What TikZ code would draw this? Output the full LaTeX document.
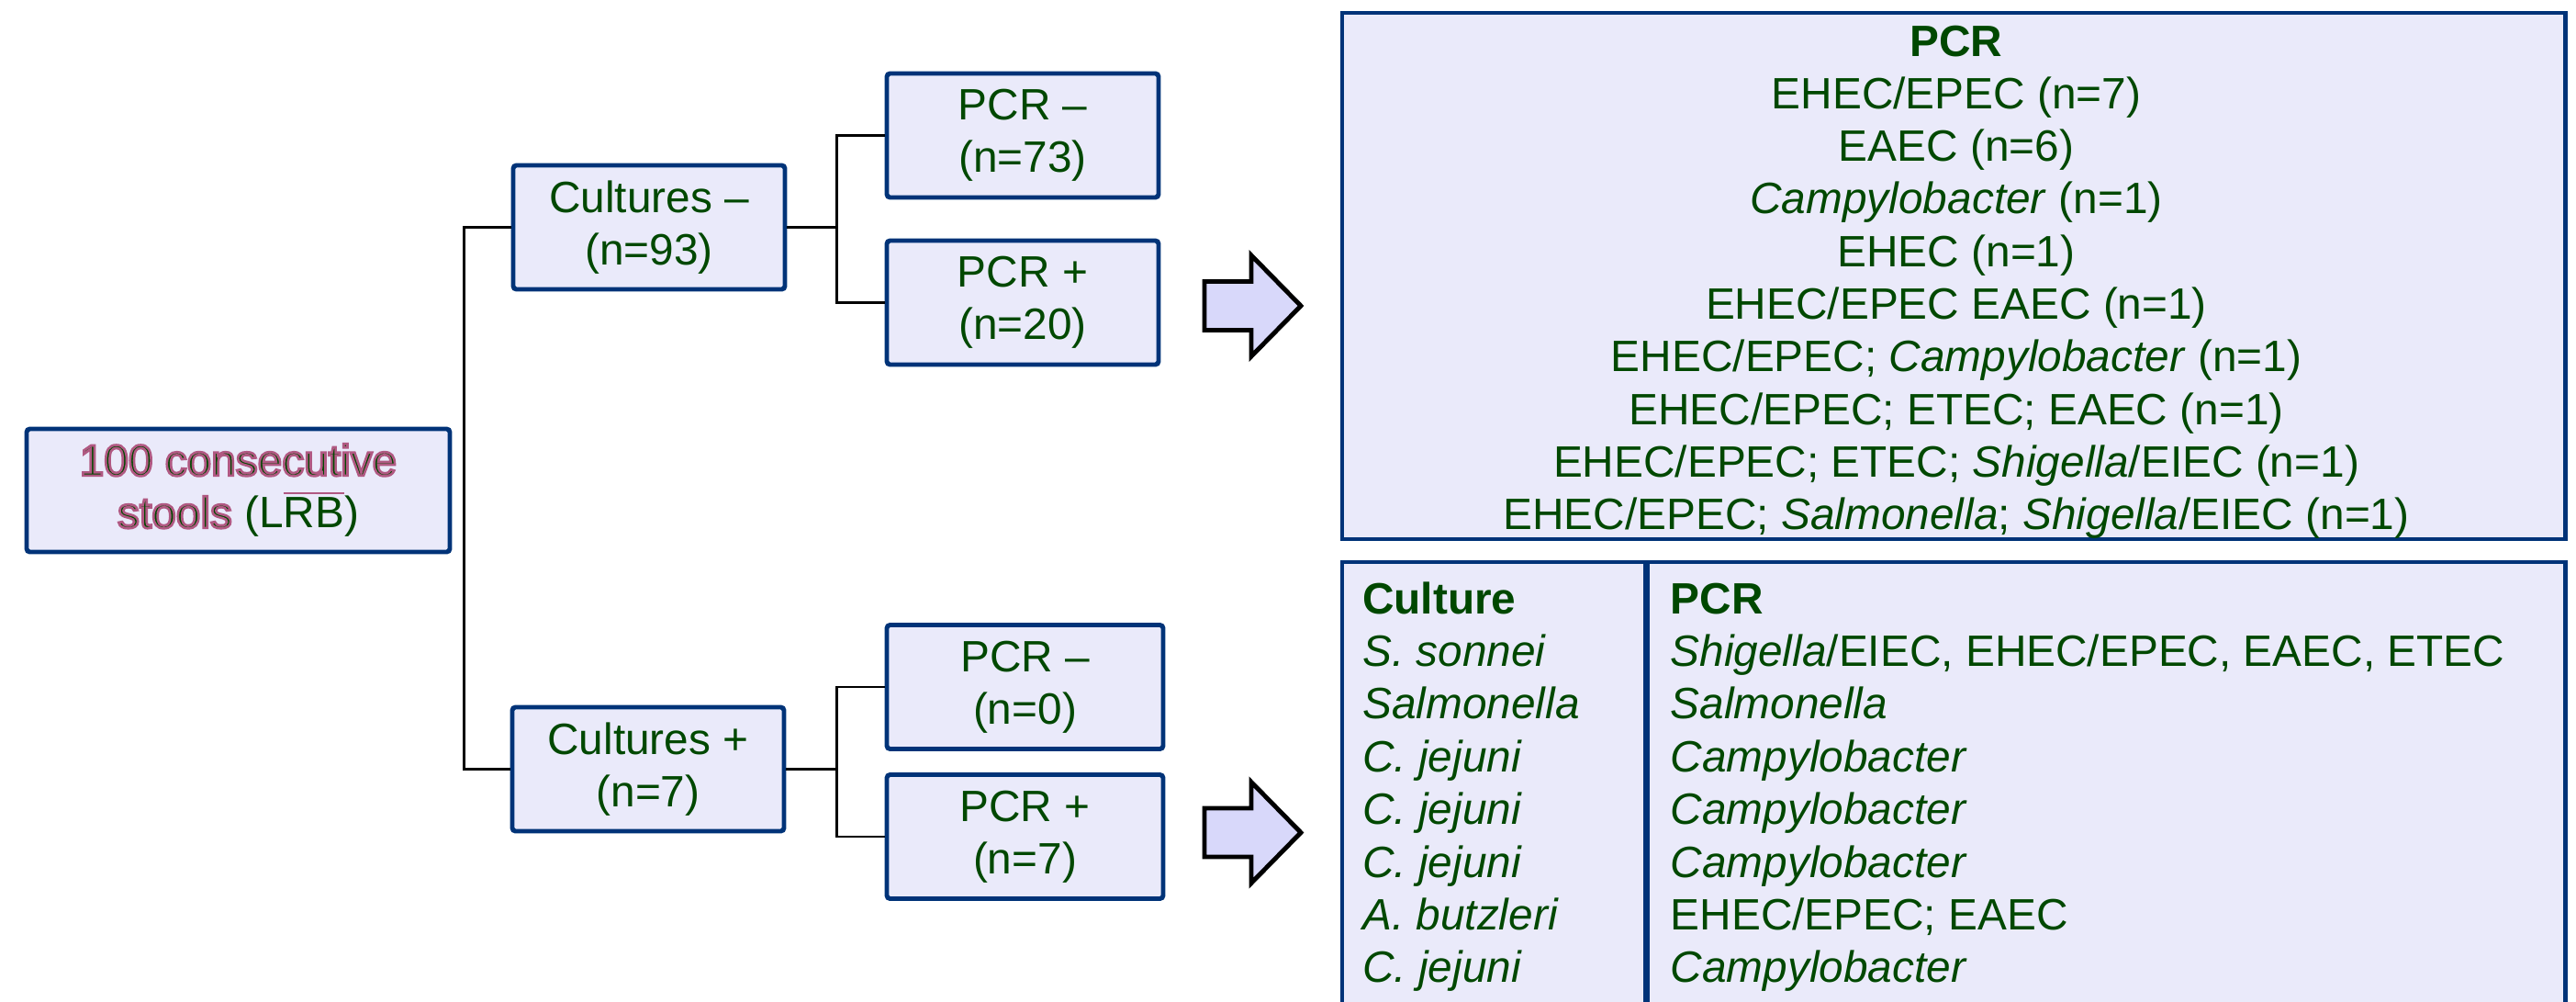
\documentclass[tikz,border=0pt]{standalone}
\usepackage{fontspec}
\setmainfont{Liberation Sans}

\definecolor{boxblue}{RGB}{0,51,120}
\definecolor{boxfill}{RGB}{234,234,250}
\definecolor{arrowfill}{RGB}{216,216,250}
\definecolor{txtgreen}{RGB}{0,72,0}
\newcommand\flowfont{\fontsize{13.6}{16.2}\selectfont}
% rosa umrandete Schrift
\newcommand\pinkrim[1]{\special{pdf:literal direct 2 Tr 0.75 w 0.69 0.35 0.51 RG}#1\special{pdf:literal direct 0 Tr}}

\tikzset{
  stage/.style={draw=boxblue, fill=boxfill, line width=1.4pt, rounded corners=1pt,
    minimum width=2.96cm, minimum height=1.35cm, inner sep=0pt, align=center,
    text=txtgreen, font=\flowfont},
  link/.style={draw=black, line width=0.6pt},
  bigarrow/.style={draw=black, fill=arrowfill, line width=1.4pt, line join=miter},
  panel/.style={draw=boxblue, fill=boxfill, line width=1.4pt},
  entry/.style={text=txtgreen, font=\flowfont, inner sep=0pt}
}

\begin{document}
\begin{tikzpicture}
    \useasboundingbox (0,0) rectangle (28.06,10.90);

    % Ausgangsprobe
    \node[stage, minimum width=4.61cm, minimum height=1.34cm] (stools) at (2.595,5.56)
        {\pinkrim{100 consecutive}\\\pinkrim{stools} (L$\overline{\mbox{RB}}$)};

    % Kulturen und PCR
    \node[stage] (culneg) at (7.07,8.425) {Cultures –\\(n=93)};
    \node[stage] (culpos) at (7.06,2.525) {Cultures +\\(n=7)};
    \node[stage] (pcrneg1) at (11.14,9.425) {PCR –\\(n=73)};
    \node[stage] (pcrpos1) at (11.14,7.605) {PCR +\\(n=20)};
    \node[stage, minimum width=3.01cm] (pcrneg2) at (11.165,3.42) {PCR –\\(n=0)};
    \node[stage, minimum width=3.01cm] (pcrpos2) at (11.165,1.79) {PCR +\\(n=7)};

    % Verbindungen
    \draw[link] (culneg.west) -- ++(-0.51,0) coordinate (trunk) |- (culpos.west);
    \draw[link] (pcrneg1.west) -- ++(-0.52,0) coordinate (fork1) |- (pcrpos1.west);
    \draw[link] (culneg.east) -- (culneg.east -| fork1);
    \draw[link] (pcrneg2.west) -- ++(-0.52,0) coordinate (fork2) |- (pcrpos2.west);
    \draw[link] (culpos.east) -- (culpos.east -| fork2);

    % Pfeile
    \foreach \ya in {7.57,1.835}
        \draw[bigarrow] (13.12,\ya) ++(0,0.265) -- ++(0.51,0) -- ++(0,0.285) -- ++(0.54,-0.55)
            -- ++(-0.54,-0.55) -- ++(0,0.285) -- ++(-0.51,0) -- cycle;

    % Ergebnisfelder
    \draw[panel] (14.62,5.03) rectangle (27.94,10.76);
    \draw[panel] (14.62,-0.3) rectangle (27.94,4.78);
    \draw[boxblue, line width=2pt] (17.93,4.78) -- (17.93,-0.3);

    % PCR bei negativen Kulturen
    \foreach \res [count=\k from 0] in {{\textbf{PCR}}, EHEC/EPEC (n=7), EAEC (n=6),
        {\textit{Campylobacter} (n=1)}, EHEC (n=1), EHEC/EPEC EAEC (n=1),
        {EHEC/EPEC; \textit{Campylobacter} (n=1)}, EHEC/EPEC; ETEC; EAEC (n=1),
        {EHEC/EPEC; ETEC; \textit{Shigella}/EIEC (n=1)},
        {EHEC/EPEC; \textit{Salmonella}; \textit{Shigella}/EIEC (n=1)}}
        \node[entry, anchor=base] (res\k) at (21.31,10.29-0.573*\k) {\res};

    % Kultur gegen PCR
    \foreach \cul/\pcr [count=\k from 0] in {{\textbf{Culture}}/{\textbf{PCR}},
        {\textit{S. sonnei}}/{\textit{Shigella}/EIEC, EHEC/EPEC, EAEC, ETEC},
        {\textit{Salmonella}}/{\textit{Salmonella}},
        {\textit{C. jejuni}}/{\textit{Campylobacter}},
        {\textit{C. jejuni}}/{\textit{Campylobacter}},
        {\textit{C. jejuni}}/{\textit{Campylobacter}},
        {\textit{A. butzleri}}/{EHEC/EPEC; EAEC},
        {\textit{C. jejuni}}/{\textit{Campylobacter}}}
    {
        \node[entry, anchor=base west] (cul\k) at (14.835,4.22-0.574*\k) {\cul};
        \node[entry, anchor=base west] (pcr\k) at (18.19,4.22-0.574*\k) {\pcr};
    }
\end{tikzpicture}
\end{document}
